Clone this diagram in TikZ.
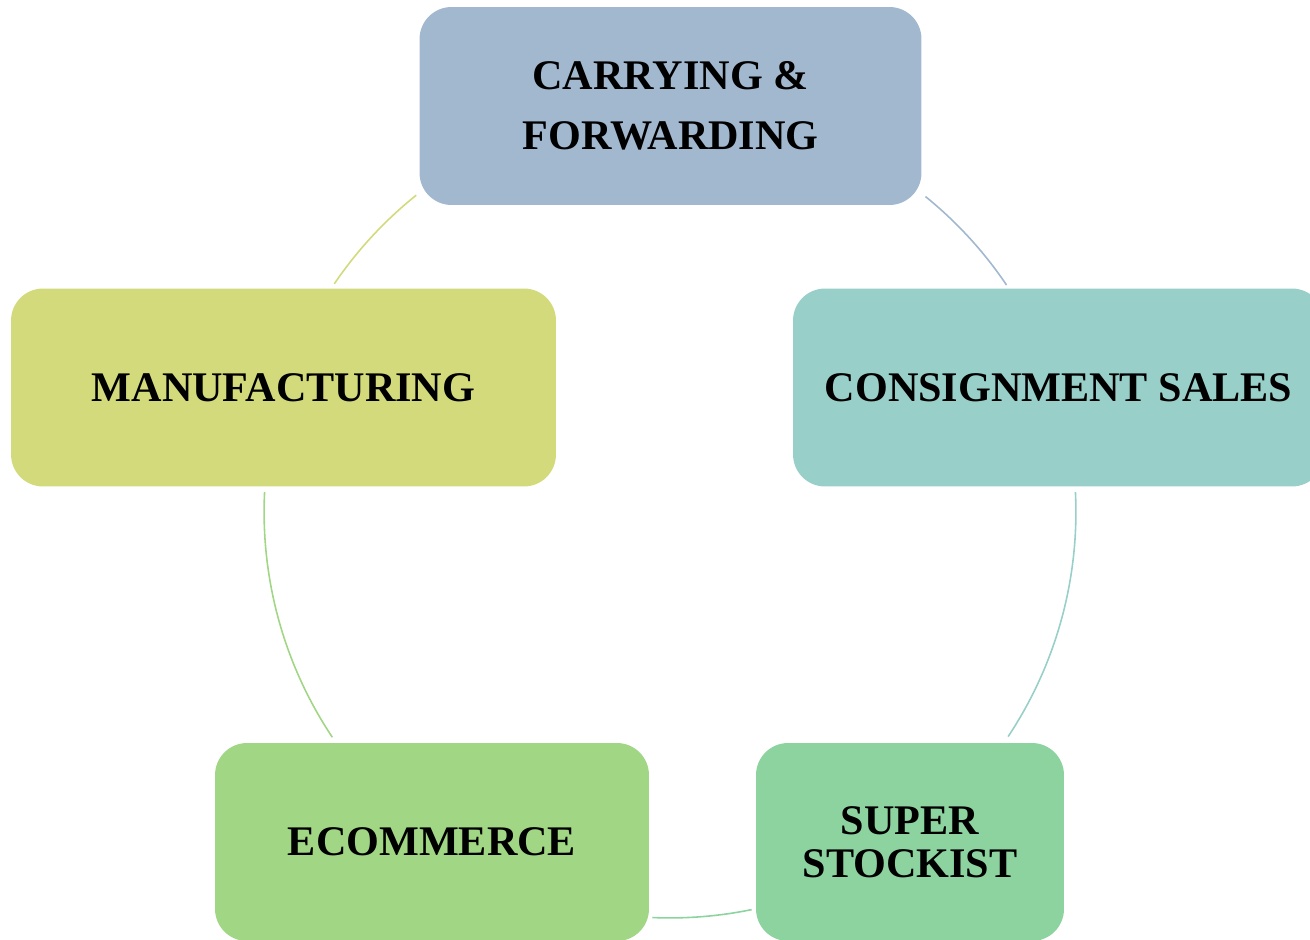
\documentclass[tikz,border=0pt]{standalone}
\usepackage{fontspec}
\setmainfont{Liberation Serif}
\usepackage{xcolor}

\definecolor{carryBlue}{HTML}{A1B8CF}
\definecolor{manuYellow}{HTML}{D3DA7B}
\definecolor{consignTeal}{HTML}{98D0C9}
\definecolor{ecomGreen}{HTML}{A1D685}
\definecolor{superGreen}{HTML}{8DD3A0}

\begin{document}
\begin{tikzpicture}[x=0.02cm, y=-0.02cm,
        stage/.style={rounded corners=0.64cm, minimum height=3.96cm, inner sep=0pt, align=center,
            font=\fontsize{24}{34}\selectfont\bfseries},
        ring/.style={line width=0.9pt}]
            \useasboundingbox (0, 0) rectangle (1310, 939);
            \node[stage, fill=carryBlue, minimum width=10.04cm] (carry) at (670.5, 106) {CARRYING \&\\FORWARDING};
            \node[stage, fill=manuYellow, minimum width=10.9cm] (manu) at (283.5, 387.5) {MANUFACTURING};
            \node[stage, fill=consignTeal, minimum width=10.62cm] (consign) at (1058.5, 387.5) {CONSIGNMENT SALES};
            \node[stage, fill=ecomGreen, minimum width=8.68cm] (ecom) at (432, 842) {ECOMMERCE};
            \node[stage, fill=superGreen, minimum width=6.16cm, font=\fontsize{24}{24.5}\selectfont\bfseries] (super) at (910, 842) {SUPER\\STOCKIST};

            \coordinate (hub) at (670, 512);
            \foreach \aStart/\aEnd/\aColor in {51/34/carryBlue, 2.8/-33.6/consignTeal, -78.4/-92.5/superGreen, -146.3/-182.8/ecomGreen, 145.8/128.7/manuYellow}
                \draw[ring, \aColor] ([shift={(\aStart:8.12cm)}]hub) arc (\aStart:\aEnd:8.12cm);
        \end{tikzpicture}
\end{document}
